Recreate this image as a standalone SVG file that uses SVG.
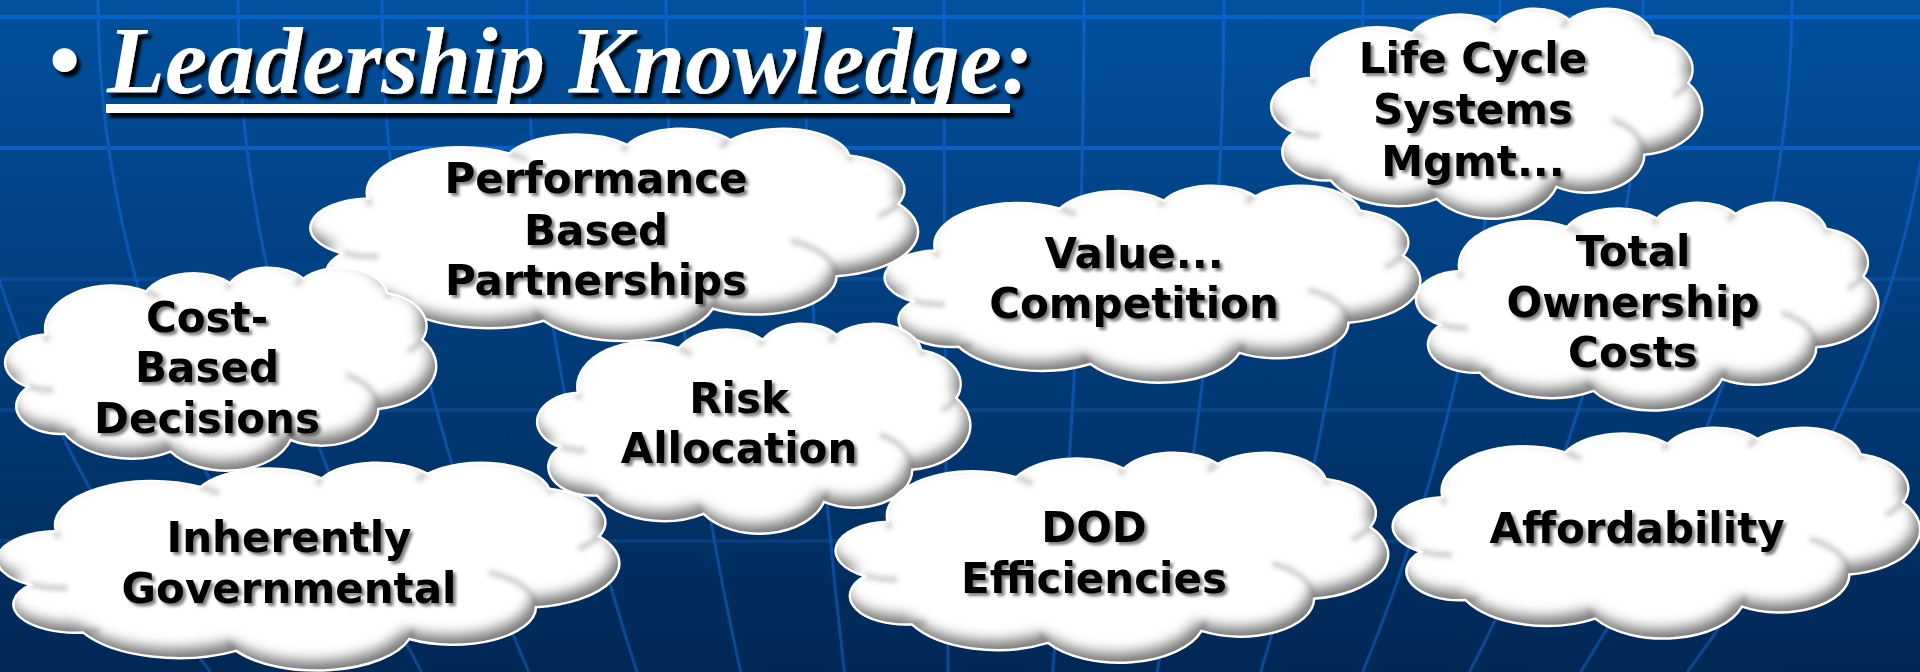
<svg xmlns="http://www.w3.org/2000/svg" xmlns:xlink="http://www.w3.org/1999/xlink" width="1920" height="672" viewBox="0 0 1920 672">
  <defs>
    <linearGradient id="bg" x1="0" y1="0" x2="0" y2="1">
      <stop offset="0" stop-color="#02509e"/>
      <stop offset="1" stop-color="#002855"/>
    </linearGradient>
    <linearGradient id="gridV" gradientUnits="userSpaceOnUse" x1="0" y1="0" x2="0" y2="672">
      <stop offset="0" stop-color="#0b60c8"/>
      <stop offset="1" stop-color="#0a4894"/>
    </linearGradient>

    <!-- cloud outline in a 432 x 432 box -->
    <path id="cloud" vector-effect="non-scaling-stroke" d="M39,143.7 A67.53,91.9 0 0 1 140.05,52.02 A53.33,72.67 0 0 1 224.56,34.32 A43.65,59.45 0 0 1 298.33,24.82 A48.57,65.95 0 0 1 383.18,55.78 A53.33,72.73 0 0 1 418.19,154.61 A67.75,92.2 0 0 1 374.03,302.02 A57.85,78.67 0 0 1 285.55,368.12 A67.52,92.15 0 0 1 164.8,392.65 A77.2,105.43 0 0 1 58.02,354.7 A43.6,59.18 0 0 1 21.11,255.49 A43.45,59.45 0 0 1 39,143.7 Z"/>
    <!-- creases where the bumps meet -->
    <path id="crease" vector-effect="non-scaling-stroke" d="M46.93,261.77 A43.45,59.45 0 0 1 21.6,253.8 M69.28,348.99 A43.6,59.18 0 0 1 58.02,354.7 M164.78,390.9 A67.52,92.15 0 0 1 158.09,373.48 M288.27,347.51 A67.52,92.15 0 0 1 285.6,366.6 M341.29,229.54 A57.85,78.67 0 0 1 373.81,300.9 M417.98,153.54 A53.33,72.73 0 0 1 403.5,180.3 M383.24,54.26 A48.57,65.95 0 0 1 384,66.9 M290.78,39.52 A48.57,65.95 0 0 1 298.2,23.39 M221.41,47.2 A43.65,59.45 0 0 1 225,33.3 M140,51.92 A67.53,91.9 0 0 1 153.01,65.41 M41.27,157.89 A67.53,91.9 0 0 1 39,143.71"/>

    <!-- soft grey shading along the lower right inside edge -->
    <filter id="shade" x="-5%" y="-5%" width="110%" height="110%" color-interpolation-filters="sRGB">
      <feGaussianBlur in="SourceAlpha" stdDeviation="7" result="blur"/>
      <feOffset in="blur" dx="-5" dy="-9" result="off"/>
      <feComposite in="SourceAlpha" in2="off" operator="out" result="rim"/>
      <feFlood flood-color="#000" flood-opacity="0.55"/>
      <feComposite in2="rim" operator="in" result="tone"/>
      <feMerge>
        <feMergeNode in="SourceGraphic"/>
        <feMergeNode in="tone"/>
      </feMerge>
    </filter>
    <filter id="soft" x="-20%" y="-20%" width="140%" height="140%">
      <feGaussianBlur stdDeviation="2.5"/>
    </filter>
    <filter id="titleShadow" x="-5%" y="-20%" width="110%" height="150%">
      <feDropShadow dx="4" dy="5" stdDeviation="1.5" flood-color="#000" flood-opacity="0.95"/>
    </filter>
    <filter id="labelShadow" x="-10%" y="-20%" width="120%" height="150%">
      <feDropShadow dx="3" dy="3" stdDeviation="1.6" flood-color="#000" flood-opacity="0.5"/>
    </filter>

    <style>
      .hline { stroke-width: 4; fill: none; }
      .vline { stroke: url(#gridV); stroke-width: 3; fill: none; }
      .body { fill: #ffffff; }
      .crease { fill: none; stroke: #5a5a5a; stroke-width: 6; stroke-opacity: 0.28; }
      .edge { fill: none; stroke: #ffffff; stroke-width: 2.5; }
      .label { font-family: "DejaVu Sans", Verdana, sans-serif; font-weight: bold; font-size: 42px; fill: #000000; text-anchor: middle; filter: url(#labelShadow); }
      .title { font-family: "Liberation Serif", "Times New Roman", serif; font-weight: bold; font-style: italic; font-size: 95px; fill: #ffffff; }
      .bullet { font-family: "Liberation Serif", "Times New Roman", serif; font-size: 100px; fill: #ffffff; }
    </style>
  </defs>

  <!-- backdrop -->
  <rect x="0" y="0" width="1920" height="672" fill="url(#bg)"/>

  <g id="grid">
    <line class="hline" x1="0" y1="17" x2="1920" y2="17" stroke="#0a63cc"/>
    <line class="hline" x1="0" y1="148" x2="1920" y2="148" stroke="#0a5fc4"/>
    <line class="hline" x1="0" y1="279" x2="1920" y2="279" stroke="#0a4b96"/>
    <line class="hline" x1="0" y1="410" x2="1920" y2="410" stroke="#0a4487"/>
    <line class="hline" x1="0" y1="541" x2="1920" y2="541" stroke="#0a3d7c"/>
    <path class="vline" d="M-45,0 Q-45,336 210.3,672"/>
    <path class="vline" d="M98,0 Q98,336 317,672"/>
    <path class="vline" d="M238,0 Q238,336 421.4,672"/>
    <path class="vline" d="M382,0 Q382,336 528.8,672"/>
    <path class="vline" d="M527,0 Q527,336 637,672"/>
    <path class="vline" d="M666,0 Q666,336 740.7,672"/>
    <path class="vline" d="M805,0 Q805,336 844.4,672"/>
    <path class="vline" d="M944,0 Q944,336 948.1,672"/>
    <path class="vline" d="M1084,0 Q1084,336 1052.5,672"/>
    <path class="vline" d="M1224,0 Q1224,336 1157,672"/>
    <path class="vline" d="M1363,0 Q1363,336 1260.6,672"/>
    <path class="vline" d="M1500,0 Q1500,336 1362.8,672"/>
    <path class="vline" d="M1643,0 Q1643,336 1469.5,672"/>
    <path class="vline" d="M1792,0 Q1792,336 1580.7,672"/>
    <path class="vline" d="M1935,0 Q1935,336 1687.4,672"/>
  </g>

  <g id="title" filter="url(#titleShadow)">
    <text class="bullet" x="47" y="93">•</text>
    <text class="title" x="107" y="93">Leadership Knowledge:</text>
    <rect x="106" y="104" width="904" height="9" fill="#ffffff"/>
  </g>

  <g id="connectors"/>

  <g id="node-lifecycle">
    <g filter="url(#shade)">
      <use xlink:href="#cloud" class="body" transform="translate(1273 8) scale(0.993 0.486)"/>
      <g filter="url(#soft)"><use xlink:href="#crease" class="crease" transform="translate(1273 8) scale(0.993 0.486)"/></g>
    </g>
    <use xlink:href="#cloud" class="edge" transform="translate(1273 8) scale(0.993 0.486)"/>
    <text class="label"><tspan x="1473" y="73">Life Cycle</tspan><tspan x="1473" y="124">Systems</tspan><tspan x="1473" y="176">Mgmt...</tspan></text>
  </g>

  <g id="node-performance">
    <g filter="url(#shade)">
      <use xlink:href="#cloud" class="body" transform="translate(313 128) scale(1.4 0.491)"/>
      <g filter="url(#soft)"><use xlink:href="#crease" class="crease" transform="translate(313 128) scale(1.4 0.491)"/></g>
    </g>
    <use xlink:href="#cloud" class="edge" transform="translate(313 128) scale(1.4 0.491)"/>
    <text class="label"><tspan x="596" y="193">Performance</tspan><tspan x="596" y="245">Based</tspan><tspan x="596" y="295">Partnerships</tspan></text>
  </g>

  <g id="node-value">
    <g filter="url(#shade)">
      <use xlink:href="#cloud" class="body" transform="translate(887 185) scale(1.234 0.456)"/>
      <g filter="url(#soft)"><use xlink:href="#crease" class="crease" transform="translate(887 185) scale(1.234 0.456)"/></g>
    </g>
    <use xlink:href="#cloud" class="edge" transform="translate(887 185) scale(1.234 0.456)"/>
    <text class="label"><tspan x="1134" y="268">Value...</tspan><tspan x="1134" y="318">Competition</tspan></text>
  </g>

  <g id="node-ownership">
    <g filter="url(#shade)">
      <use xlink:href="#cloud" class="body" transform="translate(1418 202) scale(1.065 0.481)"/>
      <g filter="url(#soft)"><use xlink:href="#crease" class="crease" transform="translate(1418 202) scale(1.065 0.481)"/></g>
    </g>
    <use xlink:href="#cloud" class="edge" transform="translate(1418 202) scale(1.065 0.481)"/>
    <text class="label"><tspan x="1633" y="266">Total</tspan><tspan x="1633" y="317">Ownership</tspan><tspan x="1633" y="367">Costs</tspan></text>
  </g>

  <g id="node-costbased">
    <g filter="url(#shade)">
      <use xlink:href="#cloud" class="body" transform="translate(7 267) scale(0.993 0.47)"/>
      <g filter="url(#soft)"><use xlink:href="#crease" class="crease" transform="translate(7 267) scale(0.993 0.47)"/></g>
    </g>
    <use xlink:href="#cloud" class="edge" transform="translate(7 267) scale(0.993 0.47)"/>
    <text class="label"><tspan x="207" y="332">Cost-</tspan><tspan x="207" y="382">Based</tspan><tspan x="207" y="433">Decisions</tspan></text>
  </g>

  <g id="node-risk">
    <g filter="url(#shade)">
      <use xlink:href="#cloud" class="body" transform="translate(539 323) scale(0.998 0.486)"/>
      <g filter="url(#soft)"><use xlink:href="#crease" class="crease" transform="translate(539 323) scale(0.998 0.486)"/></g>
    </g>
    <use xlink:href="#cloud" class="edge" transform="translate(539 323) scale(0.998 0.486)"/>
    <text class="label"><tspan x="739" y="413">Risk</tspan><tspan x="739" y="463">Allocation</tspan></text>
  </g>

  <g id="node-inherently">
    <g filter="url(#shade)">
      <use xlink:href="#cloud" class="body" transform="translate(0 462) scale(1.433 0.481)"/>
      <g filter="url(#soft)"><use xlink:href="#crease" class="crease" transform="translate(0 462) scale(1.433 0.481)"/></g>
    </g>
    <use xlink:href="#cloud" class="edge" transform="translate(0 462) scale(1.433 0.481)"/>
    <text class="label"><tspan x="289" y="552">Inherently</tspan><tspan x="289" y="603">Governmental</tspan></text>
  </g>

  <g id="node-dod">
    <g filter="url(#shade)">
      <use xlink:href="#cloud" class="body" transform="translate(838 452) scale(1.273 0.486)"/>
      <g filter="url(#soft)"><use xlink:href="#crease" class="crease" transform="translate(838 452) scale(1.273 0.486)"/></g>
    </g>
    <use xlink:href="#cloud" class="edge" transform="translate(838 452) scale(1.273 0.486)"/>
    <text class="label"><tspan x="1094" y="542">DOD</tspan><tspan x="1094" y="593">Efficiencies</tspan></text>
  </g>

  <g id="node-affordability">
    <g filter="url(#shade)">
      <use xlink:href="#cloud" class="body" transform="translate(1395 427) scale(1.215 0.488)"/>
      <g filter="url(#soft)"><use xlink:href="#crease" class="crease" transform="translate(1395 427) scale(1.215 0.488)"/></g>
    </g>
    <use xlink:href="#cloud" class="edge" transform="translate(1395 427) scale(1.215 0.488)"/>
    <text class="label"><tspan x="1637" y="543">Affordability</tspan></text>
  </g>
</svg>
